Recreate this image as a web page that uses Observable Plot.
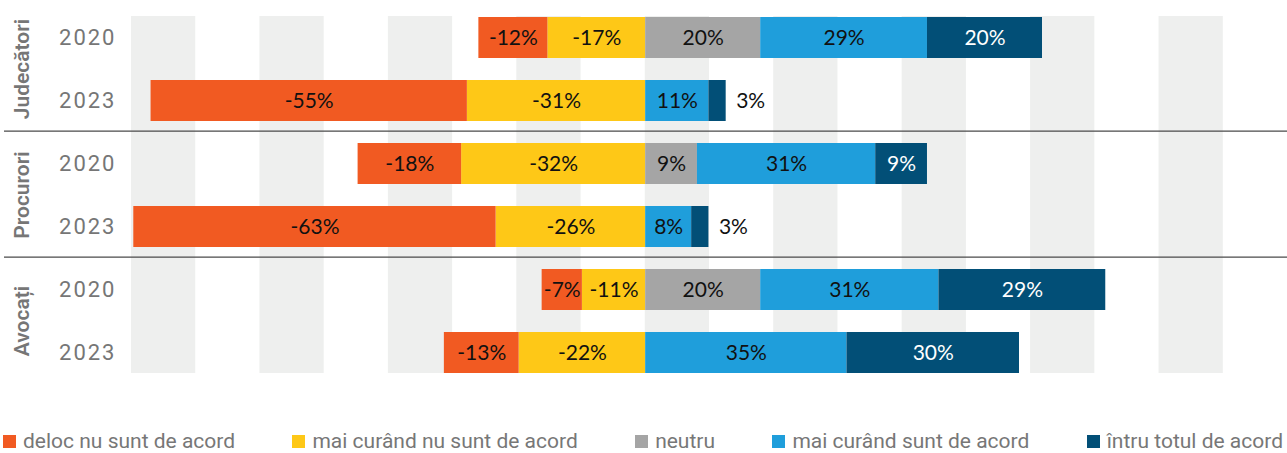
<!DOCTYPE html>
<html>
<head>
<meta charset="utf-8">
<script src="https://cdn.jsdelivr.net/npm/d3@7"></script>
<script src="https://cdn.jsdelivr.net/npm/@observablehq/plot@0.6"></script>
<style>
  html, body { margin: 0; padding: 0; background: #fff; }
  #chart svg { display: block; }
  #chart [aria-label="y-axis tick label"] text { letter-spacing: 2px; }
  #legend {
    width: 1287px; box-sizing: border-box; padding: 29px 4px 0 3px;
    display: flex; justify-content: space-between;
    font-family: Roboto, sans-serif; font-size: 21px; color: #777; line-height: 24px;
  }
  #legend .item { display: flex; align-items: center; white-space: nowrap; }
  #legend .sw { width: 13px; height: 13px; margin-right: 7px; display: inline-block; }
</style>
</head>
<body>
<div id="chart"></div>
<div id="legend"></div>
<script>
// ---- data ----
const groups = ["Judecători", "Procurori", "Avocați"];
const years = ["2020", "2023"];
const categories = [
  "deloc nu sunt de acord",
  "mai curând nu sunt de acord",
  "neutru",
  "mai curând sunt de acord",
  "întru totul de acord"
];
// rows: Judecători 2020, Judecători 2023, Procurori 2020, Procurori 2023, Avocați 2020, Avocați 2023
const delocNu     = [-12, -55, -18, -63, -7, -13];
const maiCurandNu = [-17, -31, -32, -26, -11, -22];
const neutru      = [20, 0, 9, 0, 20, 0];
const maiCurand   = [29, 11, 31, 8, 31, 35];
const intruTotul  = [20, 3, 9, 3, 29, 30];

// ---- style config ----
const colors = ["#f15a22", "#fec817", "#a5a5a5", "#1f9edb", "#024f77"];
const xDomain = [-89.4, 111.6];

const rowKeys = [];
groups.forEach(g => years.forEach(y => rowKeys.push(g + "|" + y)));

// stacked segments (negatives stack outward: yellow nearest zero, then orange)
const segments = [];
rowKeys.forEach((key, i) => {
  let neg = 0;
  [[1, maiCurandNu[i]], [0, delocNu[i]]].forEach(([c, v]) => {
    segments.push({key, cat: categories[c], v, x1: neg + v, x2: neg});
    neg += v;
  });
  let pos = 0;
  [[2, neutru[i]], [3, maiCurand[i]], [4, intruTotul[i]]].forEach(([c, v]) => {
    segments.push({key, cat: categories[c], v, x1: pos, x2: pos + v});
    pos += v;
  });
});
const shown = segments.filter(d => d.v !== 0);
const small = d => Math.abs(d.v) < 5;
const lbl = d => d.v + "%";

const w = (xDomain[1] - xDomain[0]) / 9;
const stripes = d3.range(9).map(i => ({x1: xDomain[0] + i * w, x2: xDomain[0] + i * w + w / 2}));

const height = 400, marginTop = 16, marginBottom = 27;
const step = (height - marginTop - marginBottom) / (rowKeys.length - 0.35);
const valueFont = {fontSize: 21, fontFamily: "Lato, sans-serif"};

const chart = Plot.plot({
  width: 1287,
  height,
  marginTop, marginBottom,
  marginLeft: 131, marginRight: 0,
  style: {fontFamily: "Roboto, sans-serif", background: "white"},
  x: {domain: xDomain, axis: null},
  y: {domain: rowKeys, paddingInner: 0.35, paddingOuter: 0, label: null},
  color: {domain: categories, range: colors},
  marks: [
    Plot.rect(stripes, {x1: "x1", x2: "x2", fill: "#eeefee"}),
    Plot.axisY({tickSize: 0, tickPadding: 15, fontSize: 22, fill: "#767676",
      tickFormat: d => d.split("|")[1], label: null}),
    Plot.ruleY([rowKeys[1], rowKeys[3]], {dy: step / 2 - 1.5, insetLeft: -127, stroke: "#4a4a4a", strokeWidth: 1.3}),
    Plot.barX(shown, {y: "key", x1: "x1", x2: "x2", fill: "cat"}),
    Plot.text(shown.filter(d => !small(d) && d.cat !== categories[4]), {
      y: "key", x: d => (d.x1 + d.x2) / 2, text: lbl, fill: "#111", ...valueFont}),
    Plot.text(shown.filter(d => !small(d) && d.cat === categories[4]), {
      y: "key", x: d => (d.x1 + d.x2) / 2, text: lbl, fill: "white", ...valueFont}),
    Plot.text(shown.filter(d => small(d)), {
      y: "key", x: "x2", text: lbl, textAnchor: "start", dx: 10, fill: "#111", ...valueFont})
  ]
});

// rotated group labels, centred on each group's two rows using Plot's y scale
const ys = chart.scale("y");
const bw = ys.bandwidth;
const svg = d3.select(chart);
svg.append("g")
  .attr("font-family", "Roboto, sans-serif")
  .attr("font-size", 21)
  .attr("font-weight", 600)
  .attr("fill", "#767676")
  .attr("text-anchor", "middle")
  .selectAll("text")
  .data(groups)
  .join("text")
  .attr("transform", g => {
    const a = ys.apply(g + "|" + years[0]);
    const b = ys.apply(g + "|" + years[1]);
    const cy = (a + b + bw) / 2;
    return `translate(22,${cy}) rotate(-90)`;
  })
  .attr("dy", "0.35em")
  .text(g => g);

document.getElementById("chart").append(chart);

const legend = document.getElementById("legend");
categories.forEach((c, i) => {
  const item = document.createElement("div");
  item.className = "item";
  const sw = document.createElement("span");
  sw.className = "sw";
  sw.style.background = colors[i];
  item.append(sw, document.createTextNode(c));
  legend.append(item);
});
</script>
</body>
</html>
